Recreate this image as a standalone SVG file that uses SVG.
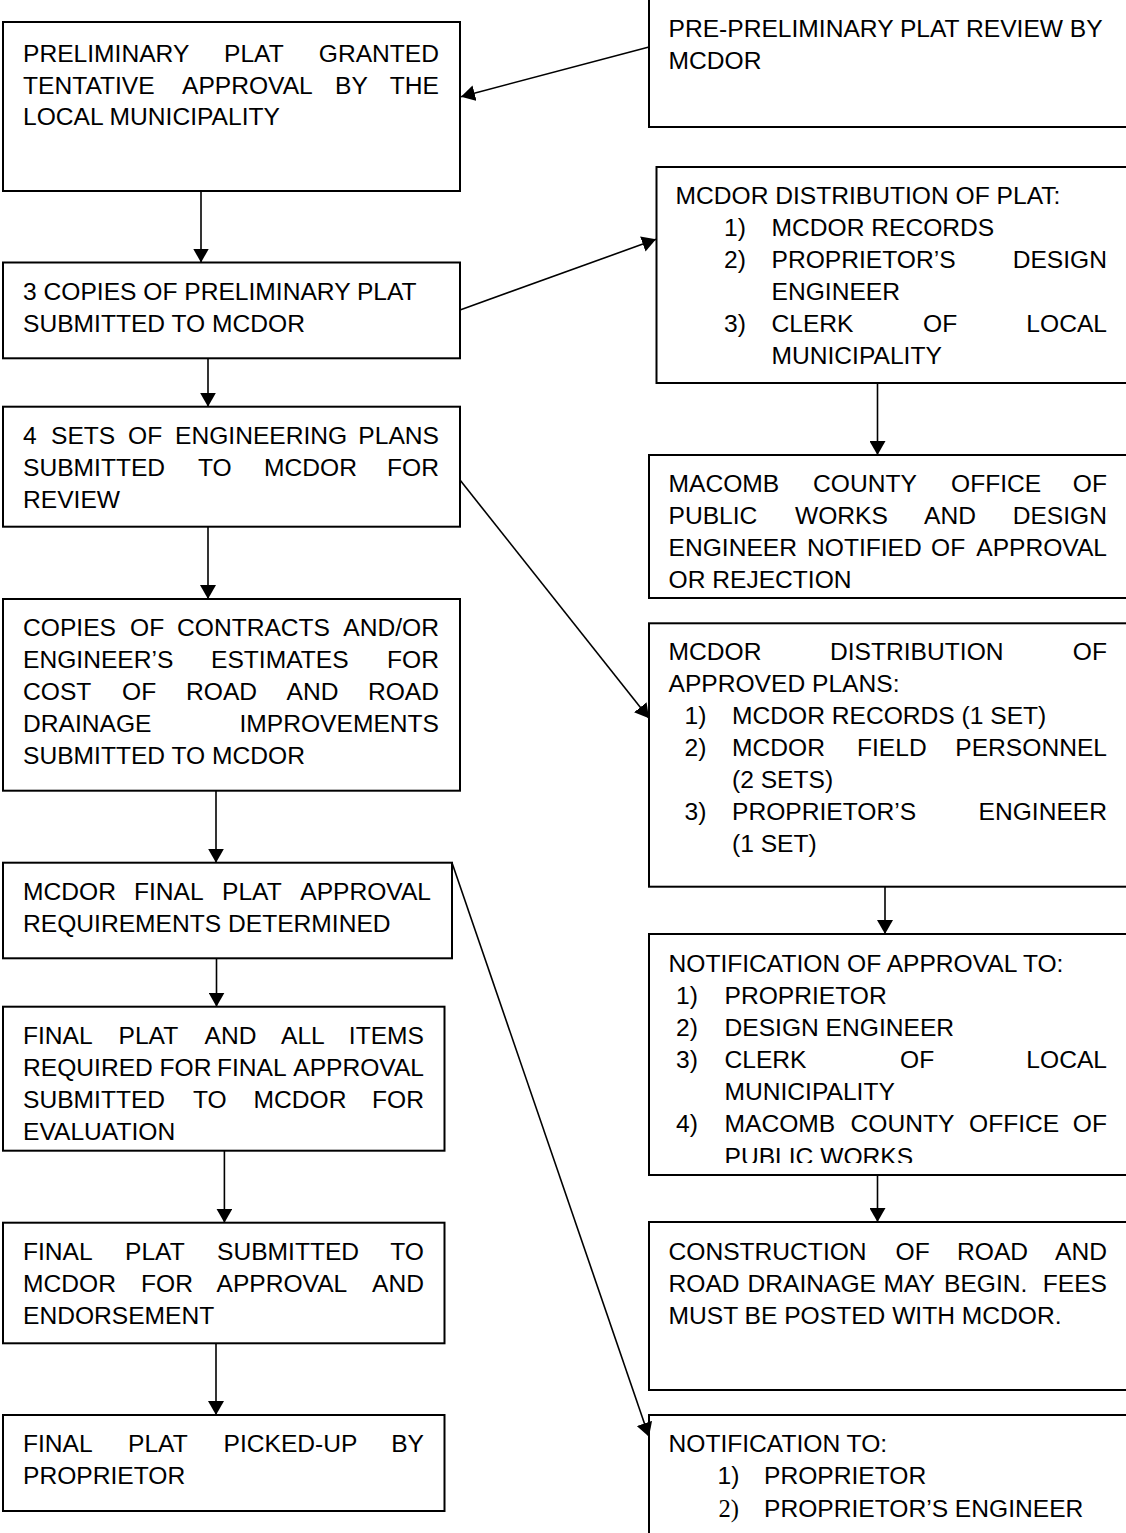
<svg xmlns="http://www.w3.org/2000/svg" width="1126" height="1533" viewBox="0 0 1126 1533">
<style>
.box{fill:#fff;stroke:#000;stroke-width:2}
.t{font-family:"Liberation Sans",Arial,sans-serif;font-size:24.6px;fill:#000}
.e{text-anchor:end}
.s{font-family:"Liberation Serif","Times New Roman",serif}
.c{fill:none;stroke:#000;stroke-width:1.6}
</style>
<defs>
<marker id="ah" markerUnits="userSpaceOnUse" markerWidth="16" markerHeight="16" refX="14" refY="8" orient="auto"><path d="M0,0 L14,8 L0,16 Z" fill="#000"/></marker>
<clipPath id="clipR5"><rect x="649" y="934" width="480" height="229"/></clipPath>
</defs>
<rect x="0" y="0" width="1126" height="1533" fill="#fff"/>

<g id="n1">
<rect class="box" x="3" y="22" width="457" height="169"/>
<text class="t" y="62"><tspan x="23">PRELIMINARY</tspan><tspan x="224">PLAT</tspan></text>
<text class="t e" x="439" y="62">GRANTED</text>
<text class="t" y="93.5"><tspan x="23">TENTATIVE</tspan><tspan x="182">APPROVAL</tspan><tspan x="335">BY</tspan></text>
<text class="t e" x="439" y="93.5">THE</text>
<text class="t" x="23" y="125">LOCAL MUNICIPALITY</text>
</g>

<g id="n2">
<rect class="box" x="649" y="-5" width="480" height="132"/>
<text class="t" x="668.5" y="37">PRE-PRELIMINARY PLAT REVIEW BY</text>
<text class="t" x="668.5" y="69">MCDOR</text>
</g>

<g id="n3">
<rect class="box" x="3" y="262.5" width="457" height="95.8"/>
<text class="t" x="23" y="300">3 COPIES OF PRELIMINARY PLAT</text>
<text class="t" x="23" y="332">SUBMITTED TO MCDOR</text>
</g>

<g id="n4">
<rect class="box" x="656.5" y="167" width="475" height="216"/>
<text class="t" x="675.5" y="204">MCDOR DISTRIBUTION OF PLAT:</text>
<text class="t" x="724" y="236">1)</text><text class="t" x="771.5" y="236">MCDOR RECORDS</text>
<text class="t" x="724" y="268">2)</text><text class="t" x="771.5" y="268">PROPRIETOR’S</text><text class="t e" x="1107" y="268">DESIGN</text>
<text class="t" x="771.5" y="300">ENGINEER</text>
<text class="t" x="724" y="332">3)</text><text class="t" y="332"><tspan x="771.5">CLERK</tspan><tspan x="923">OF</tspan></text><text class="t e" x="1107" y="332">LOCAL</text>
<text class="t" x="771.5" y="364">MUNICIPALITY</text>
</g>

<g id="n5">
<rect class="box" x="3" y="406.7" width="457" height="120"/>
<text class="t" y="444"><tspan x="23">4</tspan><tspan x="51">SETS</tspan><tspan x="128">OF</tspan><tspan x="175">ENGINEERING</tspan></text>
<text class="t e" x="439" y="444">PLANS</text>
<text class="t" y="476"><tspan x="23">SUBMITTED</tspan><tspan x="198">TO</tspan><tspan x="264">MCDOR</tspan></text>
<text class="t e" x="439" y="476">FOR</text>
<text class="t" x="23" y="508">REVIEW</text>
</g>

<g id="n6">
<rect class="box" x="649" y="455" width="480" height="143"/>
<text class="t" y="492"><tspan x="668.5">MACOMB</tspan><tspan x="813">COUNTY</tspan><tspan x="951">OFFICE</tspan></text>
<text class="t e" x="1107" y="492">OF</text>
<text class="t" y="524"><tspan x="668.5">PUBLIC</tspan><tspan x="795">WORKS</tspan><tspan x="924">AND</tspan></text>
<text class="t e" x="1107" y="524">DESIGN</text>
<text class="t" y="556"><tspan x="668.5">ENGINEER</tspan><tspan x="807">NOTIFIED</tspan><tspan x="931">OF</tspan></text>
<text class="t e" x="1107" y="556">APPROVAL</text>
<text class="t" x="668.5" y="588">OR REJECTION</text>
</g>

<g id="n7">
<rect class="box" x="3" y="599" width="457" height="191.7"/>
<text class="t" y="636"><tspan x="23">COPIES</tspan><tspan x="130">OF</tspan><tspan x="177">CONTRACTS</tspan></text>
<text class="t e" x="439" y="636">AND/OR</text>
<text class="t" y="668"><tspan x="23">ENGINEER’S</tspan><tspan x="211">ESTIMATES</tspan></text>
<text class="t e" x="439" y="668">FOR</text>
<text class="t" y="700"><tspan x="23">COST</tspan><tspan x="122">OF</tspan><tspan x="186">ROAD</tspan><tspan x="286.5">AND</tspan></text>
<text class="t e" x="439" y="700">ROAD</text>
<text class="t" x="23" y="732">DRAINAGE</text>
<text class="t e" x="439" y="732">IMPROVEMENTS</text>
<text class="t" x="23" y="764">SUBMITTED TO MCDOR</text>
</g>

<g id="n8">
<rect class="box" x="649" y="623.3" width="480" height="263.4"/>
<text class="t" y="660"><tspan x="668.5">MCDOR</tspan><tspan x="830">DISTRIBUTION</tspan></text>
<text class="t e" x="1107" y="660">OF</text>
<text class="t" x="668.5" y="692">APPROVED PLANS:</text>
<text class="t" x="684.5" y="724">1)</text><text class="t" x="732" y="724">MCDOR RECORDS (1 SET)</text>
<text class="t" x="684.5" y="756">2)</text><text class="t" y="756"><tspan x="732">MCDOR</tspan><tspan x="857">FIELD</tspan></text><text class="t e" x="1107" y="756">PERSONNEL</text>
<text class="t" x="732" y="788">(2 SETS)</text>
<text class="t" x="684.5" y="820">3)</text><text class="t" x="732" y="820">PROPRIETOR’S</text><text class="t e" x="1107" y="820">ENGINEER</text>
<text class="t" x="732" y="852">(1 SET)</text>
</g>

<g id="n9">
<rect class="box" x="3" y="862.7" width="449" height="95.6"/>
<text class="t" y="900"><tspan x="23">MCDOR</tspan><tspan x="134">FINAL</tspan><tspan x="222">PLAT</tspan></text>
<text class="t e" x="431" y="900">APPROVAL</text>
<text class="t" x="23" y="932">REQUIREMENTS DETERMINED</text>
</g>

<g id="n10">
<rect class="box" x="649" y="934" width="480" height="241"/>
<g clip-path="url(#clipR5)">
<text class="t" x="668.5" y="972">NOTIFICATION OF APPROVAL TO:</text>
<text class="t" x="676" y="1004">1)</text><text class="t" x="724.5" y="1004">PROPRIETOR</text>
<text class="t" x="676" y="1036">2)</text><text class="t" x="724.5" y="1036">DESIGN ENGINEER</text>
<text class="t" x="676" y="1068">3)</text><text class="t" y="1068"><tspan x="724.5">CLERK</tspan><tspan x="900">OF</tspan></text><text class="t e" x="1107" y="1068">LOCAL</text>
<text class="t" x="724.5" y="1100">MUNICIPALITY</text>
<text class="t" x="676" y="1132">4)</text><text class="t" y="1132"><tspan x="724.5">MACOMB</tspan><tspan x="850.5">COUNTY</tspan><tspan x="969">OFFICE</tspan></text><text class="t e" x="1107" y="1132">OF</text>
<text class="t" x="724.5" y="1165">PUBLIC WORKS</text>
</g>
</g>

<g id="n11">
<rect class="box" x="3" y="1006.7" width="441.5" height="144"/>
<text class="t" y="1043.5"><tspan x="23">FINAL</tspan><tspan x="118.5">PLAT</tspan><tspan x="204.5">AND</tspan><tspan x="281">ALL</tspan></text>
<text class="t e" x="424" y="1043.5">ITEMS</text>
<text class="t" y="1075.5"><tspan x="23">REQUIRED</tspan><tspan x="159.5">FOR</tspan><tspan x="217">FINAL</tspan></text>
<text class="t e" x="424" y="1075.5">APPROVAL</text>
<text class="t" y="1107.5"><tspan x="23">SUBMITTED</tspan><tspan x="193">TO</tspan><tspan x="253.5">MCDOR</tspan></text>
<text class="t e" x="424" y="1107.5">FOR</text>
<text class="t" x="23" y="1139.5">EVALUATION</text>
</g>

<g id="n12">
<rect class="box" x="649" y="1222" width="480" height="168"/>
<text class="t" y="1260"><tspan x="668.5">CONSTRUCTION</tspan><tspan x="895.5">OF</tspan><tspan x="957">ROAD</tspan></text>
<text class="t e" x="1107" y="1260">AND</text>
<text class="t" y="1292"><tspan x="668.5">ROAD</tspan><tspan x="747.5">DRAINAGE</tspan><tspan x="883.5">MAY</tspan><tspan x="944">BEGIN.</tspan></text>
<text class="t e" x="1107" y="1292">FEES</text>
<text class="t" x="668.5" y="1324">MUST BE POSTED WITH MCDOR.</text>
</g>

<g id="n13">
<rect class="box" x="3" y="1222.7" width="441.5" height="120.6"/>
<text class="t" y="1260"><tspan x="23">FINAL</tspan><tspan x="125">PLAT</tspan><tspan x="217">SUBMITTED</tspan></text>
<text class="t e" x="424" y="1260">TO</text>
<text class="t" y="1292"><tspan x="23">MCDOR</tspan><tspan x="141">FOR</tspan><tspan x="216.5">APPROVAL</tspan></text>
<text class="t e" x="424" y="1292">AND</text>
<text class="t" x="23" y="1324">ENDORSEMENT</text>
</g>

<g id="n14">
<rect class="box" x="3" y="1415" width="441.5" height="96"/>
<text class="t" y="1452"><tspan x="23">FINAL</tspan><tspan x="128">PLAT</tspan><tspan x="223.5">PICKED-UP</tspan></text>
<text class="t e" x="424" y="1452">BY</text>
<text class="t" x="23" y="1484">PROPRIETOR</text>
</g>

<g id="n15">
<rect class="box" x="649" y="1415" width="480" height="130"/>
<text class="t" x="668.5" y="1452">NOTIFICATION TO:</text>
<text class="t" x="717.5" y="1484">1)</text><text class="t" x="764" y="1484">PROPRIETOR</text>
<text class="t s" x="718.5" y="1517">2)</text><text class="t" x="764" y="1517">PROPRIETOR’S ENGINEER</text>
</g>

<g id="connectors">
<line class="c" x1="649" y1="47" x2="461" y2="96.7" marker-end="url(#ah)"/>
<line class="c" x1="201" y1="191" x2="201" y2="262.5" marker-end="url(#ah)"/>
<line class="c" x1="460" y1="310" x2="656" y2="239.3" marker-end="url(#ah)"/>
<line class="c" x1="208" y1="358.3" x2="208" y2="406.7" marker-end="url(#ah)"/>
<line class="c" x1="877.5" y1="383" x2="877.5" y2="455" marker-end="url(#ah)"/>
<line class="c" x1="460" y1="480" x2="649" y2="718.3" marker-end="url(#ah)"/>
<line class="c" x1="208" y1="526.7" x2="208" y2="599" marker-end="url(#ah)"/>
<line class="c" x1="216" y1="790.7" x2="216" y2="862.7" marker-end="url(#ah)"/>
<line class="c" x1="885" y1="886.7" x2="885" y2="934" marker-end="url(#ah)"/>
<line class="c" x1="216.5" y1="958.3" x2="216.5" y2="1006.7" marker-end="url(#ah)"/>
<line class="c" x1="452" y1="862.7" x2="649" y2="1436.7" marker-end="url(#ah)"/>
<line class="c" x1="877.5" y1="1175" x2="877.5" y2="1222" marker-end="url(#ah)"/>
<line class="c" x1="224.4" y1="1150.7" x2="224.4" y2="1222.7" marker-end="url(#ah)"/>
<line class="c" x1="216" y1="1343.3" x2="216" y2="1415" marker-end="url(#ah)"/>
</g>
</svg>
